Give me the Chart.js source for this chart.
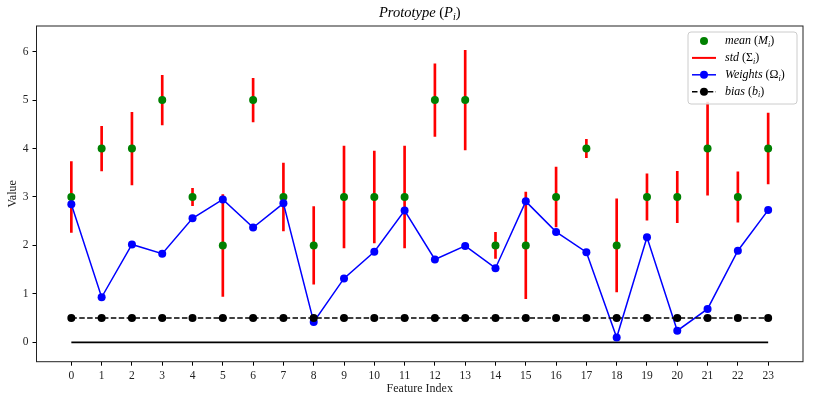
<!DOCTYPE html>
<html>
<head>
<meta charset="utf-8">
<script src="https://cdn.jsdelivr.net/npm/chart.js@4.4.1/dist/chart.umd.min.js"></script>
<style>
  body { margin: 0; background: #fff; }
  #wrap { width: 814px; height: 402px; }
</style>
</head>
<body>
<div id="wrap"><canvas id="protoChart"></canvas></div>
<script>
// Valores
const features = [0, 1, 2, 3, 4, 5, 6, 7, 8, 9, 10, 11, 12, 13, 14, 15, 16, 17, 18, 19, 20, 21, 22, 23];
const means = [3, 4, 4, 5, 3, 2, 5, 3, 2, 3, 3, 3, 5, 5, 2, 2, 3, 4, 2, 3, 3, 4, 3, 4];
const stds = [0.73, 0.46, 0.75, 0.51, 0.18, 1.05, 0.45, 0.7, 0.8, 1.05, 0.95, 1.05,
              0.75, 1.03, 0.27, 1.1, 0.62, 0.19, 0.96, 0.48, 0.53, 0.96, 0.52, 0.73];
const weights = [2.85, 0.93, 2.02, 1.83, 2.56, 2.95, 2.37, 2.87, 0.42, 1.32, 1.87, 2.72,
                 1.71, 1.99, 1.53, 2.91, 2.28, 1.86, 0.1, 2.17, 0.24, 0.69, 1.89, 2.73];
const bias = [0.5, 0.5, 0.5, 0.5, 0.5, 0.5, 0.5, 0.5, 0.5, 0.5, 0.5, 0.5,
              0.5, 0.5, 0.5, 0.5, 0.5, 0.5, 0.5, 0.5, 0.5, 0.5, 0.5, 0.5];
const yTicks = [0, 1, 2, 3, 4, 5, 6];

const SERIF = "'Liberation Serif', 'DejaVu Serif', serif";
const R = 4; // radio de marcador

// Texto con subíndice: partes {t, it, sub}
function drawRich(ctx, parts, x, y, size, align) {
    const fontFor = p => `${p.it ? 'italic ' : ''}${p.sub ? Math.round(size * 0.7) : size}px ${SERIF}`;
    let total = 0;
    parts.forEach(p => { ctx.font = fontFor(p); total += ctx.measureText(p.t).width; });
    let cx = align === 'center' ? x - total / 2 : x;
    ctx.textAlign = 'left';
    ctx.textBaseline = 'middle';
    parts.forEach(p => {
        ctx.font = fontFor(p);
        ctx.fillText(p.t, cx, p.sub ? y + size * 0.3 : y);
        cx += ctx.measureText(p.t).width;
    });
}

const decor = {
    id: 'decor',
    afterDraw(chart) {
        const { ctx, chartArea: a } = chart;
        ctx.save();
        // marco
        ctx.strokeStyle = '#222';
        ctx.lineWidth = 1;
        ctx.strokeRect(a.left, a.top, a.right - a.left, a.bottom - a.top);

        // título
        ctx.fillStyle = '#000';
        drawRich(ctx, [
            { t: 'Prototype ', it: true }, { t: '(' }, { t: 'P', it: true },
            { t: 'i', it: true, sub: true }, { t: ')' }
        ], (a.left + a.right) / 2, 13, 14.5, 'center');

        // leyenda
        const bx = a.right - 115, by = a.top + 6, bw = 109, bh = 72;
        ctx.fillStyle = 'rgba(255,255,255,0.85)';
        ctx.strokeStyle = '#ccc';
        ctx.lineWidth = 1;
        ctx.beginPath();
        ctx.roundRect(bx, by, bw, bh, 3);
        ctx.fill();
        ctx.stroke();

        const rows = [
            { parts: [{ t: 'mean ', it: true }, { t: '(' }, { t: 'M', it: true }, { t: 'i', it: true, sub: true }, { t: ')' }],
              line: null, dot: '#008000' },
            { parts: [{ t: 'std ', it: true }, { t: '(' }, { t: 'Σ' }, { t: 'i', it: true, sub: true }, { t: ')' }],
              line: '#ff0000', dot: null },
            { parts: [{ t: 'Weights ', it: true }, { t: '(' }, { t: 'Ω' }, { t: 'i', it: true, sub: true }, { t: ')' }],
              line: '#0000ff', dot: '#0000ff' },
            { parts: [{ t: 'bias ', it: true }, { t: '(' }, { t: 'b', it: true }, { t: 'i', it: true, sub: true }, { t: ')' }],
              line: '#000', dot: '#000', dash: true }
        ];
        rows.forEach((r, i) => {
            const y = by + 9 + i * 16.9;
            const x0 = bx + 4, x1 = bx + 28, xm = bx + 16;
            if (r.line) {
                ctx.strokeStyle = r.line;
                ctx.lineWidth = r.line === '#ff0000' ? 2 : 1.5;
                ctx.setLineDash(r.dash ? [5.5, 2.4] : []);
                ctx.beginPath();
                ctx.moveTo(x0, y);
                ctx.lineTo(x1, y);
                ctx.stroke();
                ctx.setLineDash([]);
            }
            if (r.dot) {
                ctx.fillStyle = r.dot;
                ctx.beginPath();
                ctx.arc(xm, y, R, 0, Math.PI * 2);
                ctx.fill();
            }
            ctx.fillStyle = '#000';
            drawRich(ctx, r.parts, bx + 37, y, 12, 'left');
        });
        ctx.restore();
    }
};

new Chart(document.getElementById('protoChart').getContext('2d'), {
    type: 'line',
    data: {
        datasets: [
            {
                label: 'zero',
                data: [{ x: features[0], y: 0 }, { x: features[features.length - 1], y: 0 }],
                borderColor: '#000',
                borderWidth: 1.8,
                pointRadius: 0,
                order: 5
            },
            {
                type: 'bar',
                label: 'std',
                data: features.map((x, i) => ({ x, y: [means[i] - stds[i], means[i] + stds[i]] })),
                backgroundColor: '#ff0000',
                borderWidth: 0,
                barThickness: 2,
                order: 4
            },
            {
                label: 'mean',
                data: features.map((x, i) => ({ x, y: means[i] })),
                showLine: false,
                pointRadius: R,
                pointBackgroundColor: '#008000',
                pointBorderWidth: 0,
                order: 3
            },
            {
                label: 'Weights',
                data: features.map((x, i) => ({ x, y: weights[i] })),
                borderColor: '#0000ff',
                borderWidth: 1.5,
                pointRadius: R,
                pointBackgroundColor: '#0000ff',
                pointBorderWidth: 0,
                tension: 0,
                order: 2
            },
            {
                label: 'bias',
                data: features.map((x, i) => ({ x, y: bias[i] })),
                borderColor: '#000',
                borderWidth: 1.5,
                borderDash: [5.5, 2.4],
                pointRadius: R,
                pointBackgroundColor: '#000',
                pointBorderWidth: 0,
                order: 1
            }
        ]
    },
    options: {
        responsive: true,
        maintainAspectRatio: false,
        animation: false,
        layout: { padding: { top: 26, right: 11, left: 0, bottom: 0 } },
        plugins: { legend: { display: false }, tooltip: { enabled: false }, title: { display: false } },
        scales: {
            x: {
                type: 'linear',
                min: -1.15,
                max: 24.15,
                offset: false,
                afterBuildTicks: s => { s.ticks = features.map(v => ({ value: v })); },
                afterFit: s => { s.height = 40.3; },
                grid: { offset: false, drawOnChartArea: false, drawTicks: true, tickLength: 4, color: '#000' },
                border: { display: false },
                ticks: { color: '#222', font: { family: SERIF, size: 11.5 }, padding: 3, maxRotation: 0, autoSkip: false },
                title: { display: true, text: 'Feature Index', color: '#222', font: { family: SERIF, size: 12 }, padding: { top: 0, bottom: 6 } }
            },
            y: {
                type: 'linear',
                min: -0.4,
                max: 6.53,
                afterBuildTicks: s => { s.ticks = yTicks.map(v => ({ value: v })); },
                afterFit: s => { s.width = 36.5; },
                grid: { drawOnChartArea: false, drawTicks: true, tickLength: 4, color: '#000' },
                border: { display: false },
                ticks: { color: '#222', font: { family: SERIF, size: 11.5 }, padding: 4 },
                title: { display: true, text: 'Value', color: '#222', font: { family: SERIF, size: 12 }, padding: { top: 6, bottom: 0 } }
            }
        }
    },
    plugins: [decor]
});
</script>
</body>
</html>
